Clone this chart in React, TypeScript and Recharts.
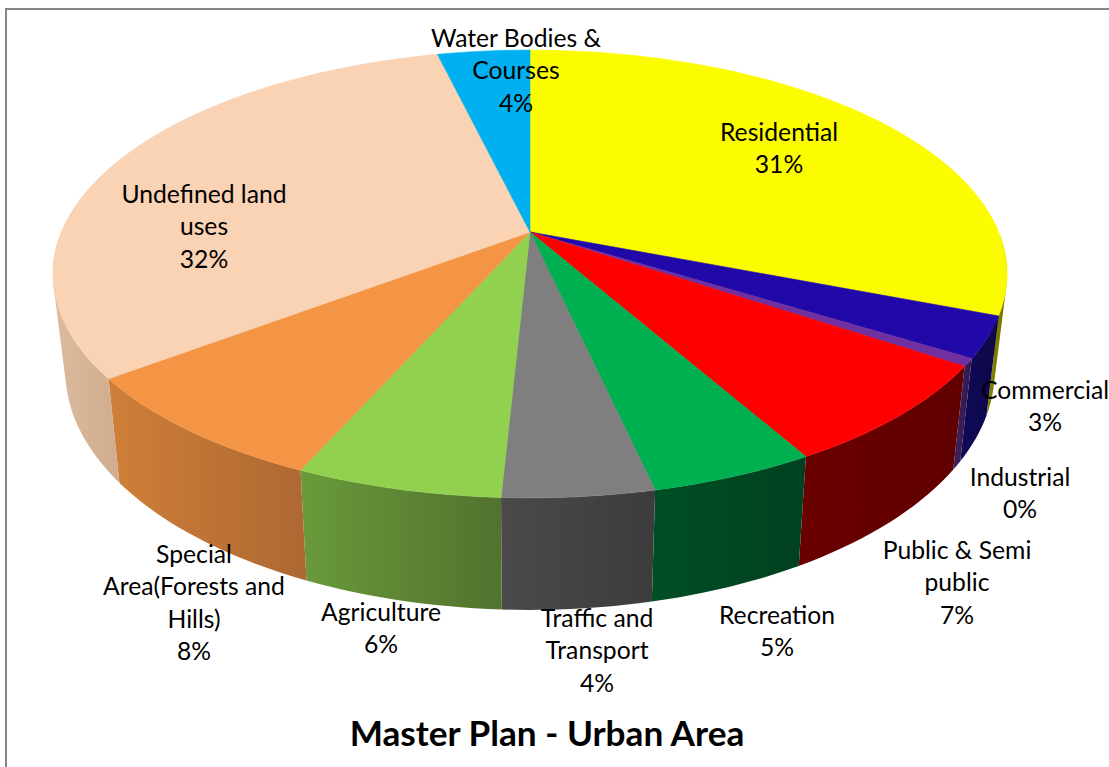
import { PieChart, Pie } from 'recharts';

// shares as measured from the slice edges; printed labels are the rounded ones below
const categories = [
  'Residential',
  'Commercial',
  'Industrial',
  'Public & Semi public',
  'Recreation',
  'Traffic and Transport',
  'Agriculture',
  'Special Area(Forests and Hills)',
  'Undefined land uses',
  'Water Bodies & Courses',
];
const shares = [30.9, 2.95, 0.55, 7.4, 4.7, 4.3, 5.85, 8.05, 31.55, 3.75];
const percentLabels = ['31%', '3%', '0%', '7%', '5%', '4%', '6%', '8%', '32%', '4%'];
const labelLines = [
  ['Residential'],
  ['Commercial'],
  ['Industrial'],
  ['Public & Semi', 'public'],
  ['Recreation'],
  ['Traffic and', 'Transport'],
  ['Agriculture'],
  ['Special', 'Area(Forests and', 'Hills)'],
  ['Undefined land', 'uses'],
  ['Water Bodies &', 'Courses'],
];

const topColors = ['#fcfc00', '#2108a8', '#7030a0', '#ff0000', '#00b050', '#7f7f7f', '#92d050', '#f39545', '#fad2b4', '#00b0f0'];
const sideLight = ['#858500', '#100a58', '#3f1f5e', '#6a0000', '#004f24', '#4a4a4a', '#6a9a3a', '#cf7f38', '#dcbb9e', '#005a80'];
const sideDark = ['#707000', '#0c0848', '#331a4e', '#600000', '#004020', '#3c3c3c', '#52722e', '#ae6832', '#d0ac8e', '#005070'];

// label block: horizontal centre and first baseline
const labelSpots = [
  [779, 141],
  [1045, 399],
  [1020, 486],
  [957, 559],
  [777, 624],
  [597, 627],
  [381, 621],
  [194, 563],
  [204, 203],
  [516, 47],
];

const tableData = categories.map((name, i) => ({ name, value: shares[i], fill: topColors[i] }));

const WIDTH = 1109;
const HEIGHT = 767;
const CX = 530;
const CY = 232;
const RX = 468.6;

// view of the disc: squash plus perspective
const RY_RATIO = 216 / 468.6;
const TILT = 0.1875;
const BOTTOM_X_SCALE = 0.974;
const BOTTOM_Y_SCALE = 1.067;
const BOTTOM_Y_SHIFT = 78.7;

const FONT = 'Lato, sans-serif';

function rimPoint(cx: number, cy: number, r: number, deg: number, bottom: boolean) {
  const rad = (deg * Math.PI) / 180;
  const x = Math.cos(rad);
  const y = -Math.sin(rad);
  const w = 1 - TILT * y;
  const px = (r * x) / w;
  const py = (r * RY_RATIO * y) / w;
  if (!bottom) return [cx + px, cy + py];
  return [cx + px * BOTTOM_X_SCALE, (cy + py) * BOTTOM_Y_SCALE + BOTTOM_Y_SHIFT];
}

function sweep(p: any) {
  const steps = Math.max(2, Math.ceil(Math.abs(p.endAngle - p.startAngle) / 1.5));
  const out = [];
  for (let s = 0; s <= steps; s++) out.push(p.startAngle + ((p.endAngle - p.startAngle) * s) / steps);
  return out;
}

const toPath = (pts: number[][]) =>
  pts.map((pt, i) => `${i === 0 ? 'M' : 'L'}${pt[0].toFixed(2)} ${pt[1].toFixed(2)}`).join(' ') + ' Z';

function signedArea(pts: number[][]) {
  let a = 0;
  pts.forEach((pt, i) => {
    const q = pts[(i + 1) % pts.length];
    a += pt[0] * q[1] - q[0] * pt[1];
  });
  return a;
}

function TopWedge(p: any) {
  const pts = [[p.cx, p.cy], ...sweep(p).map((d) => rimPoint(p.cx, p.cy, p.outerRadius, d, false))];
  return <path d={toPath(pts)} fill={p.fill} stroke={p.fill} strokeWidth={0.6} />;
}

// wall = strips between top rim and bottom rim, front half of the disc only
function SideWall(p: any) {
  const i = categories.indexOf(p.name ?? p.payload?.name);
  const degs = sweep(p).filter((d) => Math.sin((d * Math.PI) / 180) <= 0);
  if (degs.length < 2) return null;
  const id = `wall-${i}`;
  const strips = [];
  for (let s = 0; s < degs.length - 1; s++) {
    const quad = [
      rimPoint(p.cx, p.cy, p.outerRadius, degs[s], false),
      rimPoint(p.cx, p.cy, p.outerRadius, degs[s + 1], false),
      rimPoint(p.cx, p.cy, p.outerRadius, degs[s + 1], true),
      rimPoint(p.cx, p.cy, p.outerRadius, degs[s], true),
    ];
    strips.push(toPath(signedArea(quad) < 0 ? quad.reverse() : quad));
  }
  return (
    <g>
      <defs>
        <linearGradient id={id} x1="0" y1="0" x2="1" y2="0">
          <stop offset="0%" stopColor={sideLight[i]} />
          <stop offset="100%" stopColor={sideDark[i]} />
        </linearGradient>
      </defs>
      <path d={strips.join(' ')} fill={`url(#${id})`} />
    </g>
  );
}

function SliceLabel(p: any) {
  const i = p.index;
  const [x, y] = labelSpots[i];
  const lines = [...labelLines[i], percentLabels[i]];
  return (
    <text x={x} y={y} textAnchor="middle" fontFamily={FONT} fontSize={24.7} fill="#000000">
      {lines.map((line, n) => (
        <tspan key={n} x={x} dy={n === 0 ? 0 : 32.3}>
          {line}
        </tspan>
      ))}
    </text>
  );
}

export default function App() {
  return (
    <div style={{ position: 'absolute', left: 0, top: 0, width: WIDTH, height: HEIGHT }}>
      <PieChart width={WIDTH} height={HEIGHT} margin={{ top: 0, right: 0, bottom: 0, left: 0 }}>
        <rect x={6} y={9} width={WIDTH + 20} height={HEIGHT + 20} fill="none" stroke="#868686" strokeWidth={2} />
        <Pie
          data={tableData}
          dataKey="value"
          nameKey="name"
          cx={CX}
          cy={CY}
          innerRadius={0}
          outerRadius={RX}
          startAngle={90}
          endAngle={-270}
          stroke="none"
          shape={SideWall}
          label={false}
          labelLine={false}
          isAnimationActive={false}
        />
        <Pie
          data={tableData}
          dataKey="value"
          nameKey="name"
          cx={CX}
          cy={CY}
          innerRadius={0}
          outerRadius={RX}
          startAngle={90}
          endAngle={-270}
          stroke="none"
          shape={TopWedge}
          label={SliceLabel}
          labelLine={false}
          isAnimationActive={false}
        />
        <text x={547} y={746} textAnchor="middle" fontFamily={FONT} fontSize={35.2} fontWeight={700} fill="#000000">
          Master Plan - Urban Area
        </text>
      </PieChart>
    </div>
  );
}
